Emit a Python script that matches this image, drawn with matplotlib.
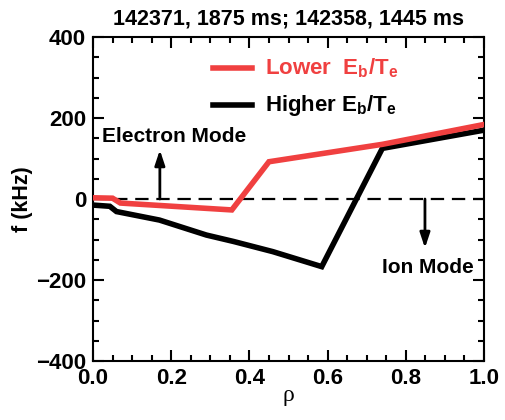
import matplotlib
matplotlib.use("Agg")
import matplotlib.pyplot as plt
from matplotlib.ticker import MultipleLocator, FixedLocator, FixedFormatter

plt.rcParams['font.family'] = ['Liberation Sans', 'DejaVu Sans']
plt.rcParams['font.weight'] = 'bold'
plt.rcParams['mathtext.fontset'] = 'custom'
plt.rcParams['mathtext.bf'] = 'Liberation Sans:bold'
plt.rcParams['mathtext.rm'] = 'Liberation Sans:bold'
plt.rcParams['mathtext.default'] = 'bf'

rho_low = [0.0, 0.05, 0.07, 0.355, 0.45, 0.74, 1.0]
f_low = [3, 2, -10, -27, 92, 135, 184]

rho_high = [0.0, 0.043, 0.06, 0.17, 0.29, 0.36, 0.46, 0.585, 0.74, 1.0]
f_high = [-15, -18, -31, -52, -89, -105, -130, -167, 125, 170]

x_ticks = [0.0, 0.2, 0.4, 0.6, 0.8, 1.0]
x_ticklabels = ['0.0', '0.2', '0.4', '0.6', '0.8', '1.0']
y_ticks = [-400, -200, 0, 200, 400]
y_ticklabels = ['\u2212400', '\u2212200', '0', '200', '400']

title = "142371, 1875 ms; 142358, 1445 ms"
label_low = r"Lower  E$_b$/T$_e$"
label_high = r"Higher E$_b$/T$_e$"

fig = plt.figure(figsize=(5.05, 4.20), dpi=100)
ax = fig.add_axes([93/505, 1-361/420, (484-93)/505, (361-37)/420])

ax.plot(rho_low, f_low, color='#f04040', lw=4, solid_joinstyle='miter', zorder=3)
ax.plot(rho_high, f_high, color='black', lw=4, solid_joinstyle='miter', zorder=2)
ax.axhline(0, color='black', lw=1.6, ls=(0, (6, 3.5)), zorder=1)

ax.set_xlim(0, 1)
ax.set_ylim(-400, 400)
ax.xaxis.set_major_locator(FixedLocator(x_ticks))
ax.xaxis.set_major_formatter(FixedFormatter(x_ticklabels))
ax.xaxis.set_minor_locator(MultipleLocator(0.05))
ax.yaxis.set_major_locator(FixedLocator(y_ticks))
ax.yaxis.set_major_formatter(FixedFormatter(y_ticklabels))
ax.yaxis.set_minor_locator(MultipleLocator(50))
ax.tick_params(which='both', direction='in', top=True, right=True, width=1.5)
ax.tick_params(which='major', length=8, labelsize=16, pad=5)
ax.tick_params(which='minor', length=4)
for s in ax.spines.values():
    s.set_linewidth(1.5)

ax.set_title(title, fontsize=15.5, fontweight='bold', pad=9)
ax.set_ylabel('f (kHz)', fontsize=15.5, fontweight='bold')
ax.yaxis.set_label_coords(-0.153, 0.5)
ax.set_xlabel('ρ', fontsize=17, fontweight='normal', family='Liberation Serif', labelpad=-3)

# legend drawn manually in axes coords
ax.plot([0.307, 0.407], [0.904, 0.904], transform=ax.transAxes, color='#f04040', lw=4)
ax.text(0.44, 0.904, label_low, transform=ax.transAxes, color='#f04040', fontsize=16,
        fontweight='bold', va='center')
ax.plot([0.307, 0.407], [0.79, 0.79], transform=ax.transAxes, color='black', lw=4)
ax.text(0.44, 0.79, label_high, transform=ax.transAxes, color='black', fontsize=16,
        fontweight='bold', va='center')

ax.annotate('', xy=(0.171, 121), xytext=(0.171, 0),
            arrowprops=dict(arrowstyle='-|>,head_length=0.9,head_width=0.3', color='black',
                            lw=2, shrinkA=0, shrinkB=0))
ax.text(0.023, 155, 'Electron Mode', fontsize=15, fontweight='bold', va='center', ha='left')
ax.annotate('', xy=(0.849, -121), xytext=(0.849, 0),
            arrowprops=dict(arrowstyle='-|>,head_length=0.9,head_width=0.3', color='black',
                            lw=2, shrinkA=0, shrinkB=0))
ax.text(0.738, -168, 'Ion Mode', fontsize=15, fontweight='bold', va='center', ha='left')

fig.savefig('out.png', dpi=100)
